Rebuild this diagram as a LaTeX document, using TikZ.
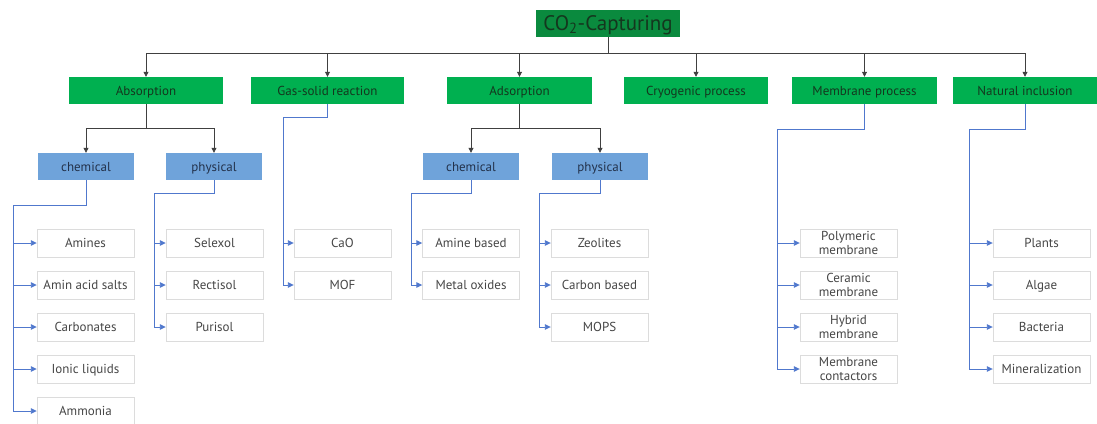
\documentclass[tikz,border=0pt]{standalone}
\usepackage{fontspec}
\setmainfont{PT Sans}
\usepackage{xcolor}
\usepackage{tikz}
\usetikzlibrary{arrows.meta, positioning, calc}
\definecolor{rootgreen}{RGB}{10,138,62}
\definecolor{branchgreen}{RGB}{0,176,80}
\definecolor{typeblue}{RGB}{111,163,218}
\definecolor{wireblue}{RGB}{80,120,205}
\definecolor{leafline}{RGB}{220,220,220}
\definecolor{leaftext}{RGB}{70,70,70}
\definecolor{typetext}{RGB}{35,50,75}
\definecolor{branchtext}{RGB}{20,55,30}

\begin{document}
\begin{tikzpicture}[x=1pt, y=-1pt,
    rootbox/.style={fill=rootgreen, text=branchtext, minimum width=144pt, minimum height=27pt, inner sep=0pt, text height=17pt, text depth=3pt, font=\fontsize{21}{24}\selectfont},
    branchbox/.style={fill=branchgreen, text=branchtext, minimum height=27pt, inner sep=0pt, text height=11pt, text depth=2pt, font=\fontsize{13}{15}\selectfont},
    typebox/.style={fill=typeblue, text=typetext, minimum width=96pt, minimum height=27pt, inner sep=0pt, text height=11pt, text depth=2pt, font=\fontsize{13}{15}\selectfont},
    leafbox/.style={draw=leafline, fill=white, text=leaftext, minimum width=97pt, minimum height=28pt, inner sep=0pt, text height=11pt, text depth=2pt, font=\fontsize{13}{14.5}\selectfont},
    leaftwo/.style={leafbox, text height=, text depth=, align=center},
    treewire/.style={draw=black!75, line width=0.8pt, -{Triangle[length=5pt, width=5pt]}},
    leafwire/.style={draw=wireblue, line width=0.9pt, -{Triangle[length=6pt, width=5.5pt]}}]
    \useasboundingbox (0,0) rectangle (1097,423);

    % Root
    \node[rootbox] (root) at (608,23.5) {CO\textsubscript{2}-Capturing};
    \coordinate (rootbus) at (608,53);

    % Main branches
    \node[branchbox, minimum width=154pt] (absorb) at (146,90.5) {Absorption};
    \node[branchbox, minimum width=153pt] (gassolid) at (327.5,90.5) {Gas-solid reaction};
    \node[branchbox, minimum width=145pt] (adsorb) at (519.5,90.5) {Adsorption};
    \node[branchbox, minimum width=144pt] (cryo) at (696,90.5) {Cryogenic process};
    \node[branchbox, minimum width=145pt] (membr) at (864.5,90.5) {Membrane process};
    \node[branchbox, minimum width=144pt] (natural) at (1025,90.5) {Natural inclusion};

    \draw[line width=0.8pt, black!75] (root.south) -- (rootbus);
    \foreach \b in {absorb, gassolid, adsorb, cryo, membr, natural}
        \draw[treewire] (rootbus) -| (\b.north);

    % Chemical / physical
    \node[typebox] (abschem) at (86,166.5) {chemical};
    \node[typebox] (absphys) at (214,166.5) {physical};
    \node[typebox] (adschem) at (471,166.5) {chemical};
    \node[typebox] (adsphys) at (600,166.5) {physical};

    \coordinate (absfork) at (146,128);
    \coordinate (adsfork) at (519.5,128);
    \draw[line width=0.8pt, black!75] (absorb.south) -- (absfork);
    \draw[line width=0.8pt, black!75] (adsorb.south) -- (adsfork);
    \draw[treewire] (absfork) -| (abschem.north);
    \draw[treewire] (absfork) -| (absphys.north);
    \draw[treewire] (adsfork) -| (adschem.north);
    \draw[treewire] (adsfork) -| (adsphys.north);

    % Leaves
    \foreach \n/\t [count=\i] in {amines/Amines, aminsalt/Amin acid salts, carbon/Carbonates, ionic/Ionic liquids, ammonia/Ammonia}
        \node[leafbox] (\n) at (85.5,201+42*\i) {\t};
    \foreach \n/\t [count=\i] in {selexol/Selexol, rectisol/Rectisol, purisol/Purisol}
        \node[leafbox] (\n) at (214.5,201+42*\i) {\t};
    \foreach \n/\t [count=\i] in {cao/CaO, mof/MOF}
        \node[leafbox] (\n) at (342.5,201+42*\i) {\t};
    \foreach \n/\t [count=\i] in {aminebased/Amine based, metalox/Metal oxides}
        \node[leafbox] (\n) at (471,201+42*\i) {\t};
    \foreach \n/\t [count=\i] in {zeolites/Zeolites, carbonbased/Carbon based, mops/MOPS}
        \node[leafbox] (\n) at (599.5,201+42*\i) {\t};
    \foreach \n/\t [count=\i] in {polymeric/Polymeric\\membrane, ceramic/Ceramic\\membrane, hybrid/Hybrid\\membrane, contactors/Membrane\\contactors}
        \node[leaftwo] (\n) at (848.5,201+42*\i) {\t};
    \foreach \n/\t [count=\i] in {plants/Plants, algae/Algae, bacteria/Bacteria, mineral/Mineralization}
        \node[leafbox] (\n) at (1041.5,201+42*\i) {\t};

    % Blue feed lines
    \coordinate (abschembus) at (13,205);
    \coordinate (absphysbus) at (154,193);
    \coordinate (gasbus) at (283,117);
    \coordinate (adschembus) at (411,193);
    \coordinate (adsphysbus) at (539,193);
    \coordinate (membrbus) at (777,129);
    \coordinate (naturalbus) at (969,129);

    \foreach \n in {amines, aminsalt, carbon, ionic, ammonia}
        \draw[leafwire] (abschem.south) |- (abschembus) |- (\n.west);
    \foreach \n in {selexol, rectisol, purisol}
        \draw[leafwire] (absphys.south) |- (absphysbus) |- (\n.west);
    \foreach \n in {cao, mof}
        \draw[leafwire] (gassolid.south) |- (gasbus) |- (\n.west);
    \foreach \n in {aminebased, metalox}
        \draw[leafwire] (adschem.south) |- (adschembus) |- (\n.west);
    \foreach \n in {zeolites, carbonbased, mops}
        \draw[leafwire] (adsphys.south) |- (adsphysbus) |- (\n.west);
    \foreach \n in {polymeric, ceramic, hybrid, contactors}
        \draw[leafwire] (membr.south) |- (membrbus) |- (\n.west);
    \foreach \n in {plants, algae, bacteria, mineral}
        \draw[leafwire] (natural.south) |- (naturalbus) |- (\n.west);
\end{tikzpicture}
\end{document}
